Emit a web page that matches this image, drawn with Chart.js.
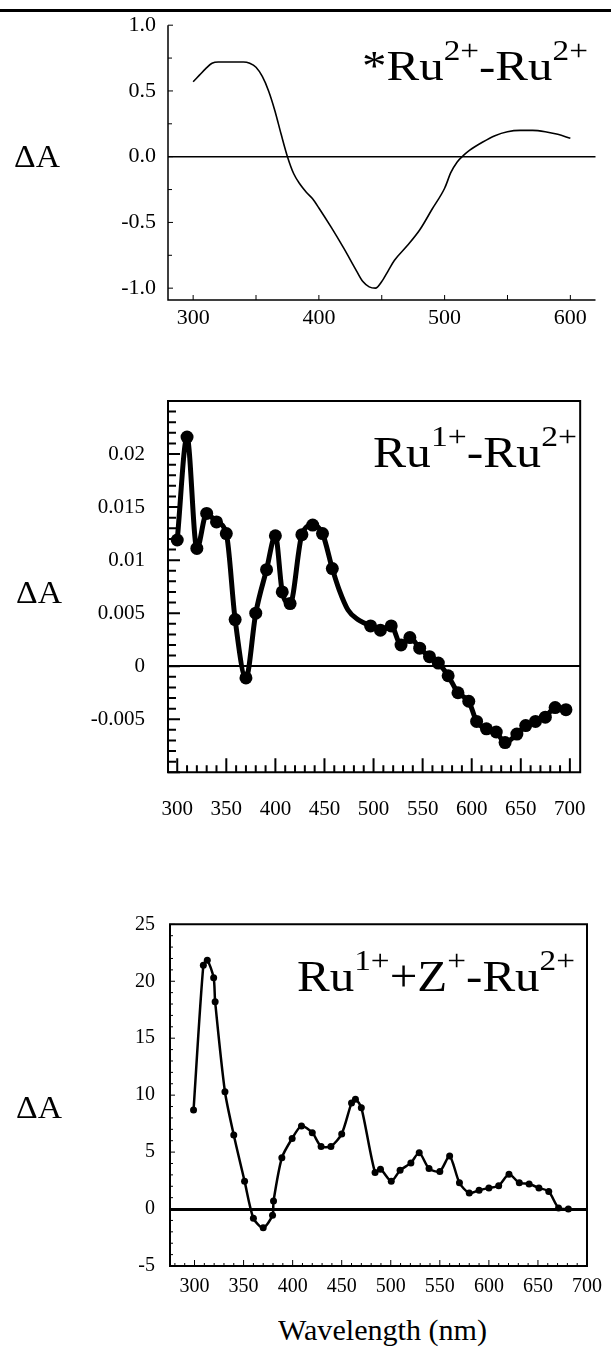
<!DOCTYPE html>
<html>
<head>
<meta charset="utf-8">
<script src="https://cdn.jsdelivr.net/npm/chart.js@4.4.1/dist/chart.umd.min.js"></script>
<style>
  body { margin: 0; background: #fff; width: 611px; height: 1358px; position: relative; overflow: hidden;
         font-family: "Liberation Serif", "Times New Roman", serif; color: #000; }
  canvas { position: absolute; left: 0; }
  .lbl { position: absolute; white-space: nowrap; line-height: 1; transform-origin: 0 0; }
  .lbl sup { font-size: 0.68em; vertical-align: 0.7em; line-height: 0; }
  #rule { position: absolute; left: 0; top: 9px; width: 611px; height: 3px; background: #000; }
</style>
</head>
<body>
<div id="rule"></div>
<canvas id="top" width="611" height="340" style="top:0"></canvas>
<canvas id="mid" width="611" height="470" style="top:360px"></canvas>
<canvas id="low" width="611" height="420" style="top:880px"></canvas>

<div class="lbl" data-x="362" data-base="80" data-w="226" data-f="42">*Ru<sup>2+</sup>-Ru<sup>2+</sup></div>
<div class="lbl" data-x="373" data-base="468" data-w="204" data-f="44">Ru<sup>1+</sup>-Ru<sup>2+</sup></div>
<div class="lbl" data-x="297" data-base="992" data-w="278" data-f="44">Ru<sup>1+</sup>+Z<sup>+</sup>-Ru<sup>2+</sup></div>
<div class="lbl" data-x="14" data-base="167" data-w="46" data-f="32">ΔA</div>
<div class="lbl" data-x="16" data-base="603" data-w="46" data-f="32">ΔA</div>
<div class="lbl" data-x="16" data-base="1118" data-w="46" data-f="32">ΔA</div>
<div class="lbl" data-x="278" data-base="1340" data-w="209" data-f="29">Wavelength (nm)</div>

<script>
// *Ru2+ - Ru2+ difference spectrum
const excitedWl = [300, 305, 310, 315, 320, 330, 340, 345, 350, 355, 360, 365, 370, 375, 380, 385, 390, 395, 400,
  410, 420, 430, 435, 440, 445, 450, 455, 460, 470, 480, 490, 500, 505, 510, 515, 520, 530, 540, 550, 560, 570,
  580, 590, 600];
const excitedDA = [0.57, 0.62, 0.67, 0.71, 0.72, 0.72, 0.72, 0.71, 0.68, 0.61, 0.50, 0.35, 0.17, 0.0, -0.13, -0.21,
  -0.27, -0.32, -0.39, -0.54, -0.70, -0.87, -0.95, -0.99, -1.0, -0.95, -0.87, -0.79, -0.68, -0.56, -0.40, -0.24,
  -0.12, -0.04, 0.01, 0.05, 0.11, 0.16, 0.19, 0.20, 0.20, 0.19, 0.17, 0.14];

// Ru1+ - Ru2+
const reducedWl = [300, 310, 320, 330, 340, 350, 359, 370, 380, 391, 400, 407, 415, 427, 438, 448, 458, 465, 474,
  484, 490, 497, 507, 518, 528, 537, 547, 557, 566, 576, 586, 597, 605, 615, 625, 634, 646, 655, 665, 675, 685, 696];
const reducedDA = [0.0119, 0.0216, 0.0111, 0.0144, 0.0136, 0.0125, 0.0044, -0.0011, 0.0050, 0.0091, 0.0123, 0.0070,
  0.0059, 0.0124, 0.0133, 0.0125, 0.0092, 0.0072, 0.0053, 0.0044, 0.0041, 0.0038, 0.0034, 0.0038, 0.0020, 0.0027,
  0.0017, 0.0009, 0.0003, -0.0009, -0.0025, -0.0033, -0.0052, -0.0059, -0.0062, -0.0072, -0.0064, -0.0056, -0.0052,
  -0.0048, -0.0039, -0.0041];

// Ru1+ + Z+ - Ru2+
const pairWl = [299, 309, 313, 319.5, 321, 331, 340, 351, 360, 370, 379.5, 380.5, 389, 399.5, 409, 420, 429, 439,
  450, 460, 464, 470, 484, 489.5, 500.5, 509.5, 520.5, 529, 539, 550, 560, 570, 580, 590, 600, 610, 620.5, 631, 641,
  651, 661, 671, 681];
const pairDA = [8.7, 21.4, 21.85, 20.3, 18.2, 10.3, 6.5, 2.45, -0.8, -1.65, -0.55, 0.7, 4.5, 6.2, 7.3, 6.7, 5.5, 5.5,
  6.6, 9.3, 9.65, 8.9, 3.2, 3.5, 2.45, 3.4, 4.05, 4.95, 3.55, 3.3, 4.65, 2.3, 1.4, 1.65, 1.85, 2.05, 3.05, 2.3, 2.2,
  1.85, 1.55, 0.1, 0.0];

// tick labels
const topXTicks = [300, 400, 500, 600];
const topYTicks = [-1, -0.5, 0, 0.5, 1];
const midXTicks = [300, 350, 400, 450, 500, 550, 600, 650, 700];
const midYTicks = [-0.005, 0, 0.005, 0.01, 0.015, 0.02];
const lowXTicks = [300, 350, 400, 450, 500, 550, 600, 650, 700];
const lowYTicks = [-5, 0, 5, 10, 15, 20, 25];

// frame + inward tick marks
const frame = {
  id: 'frame',
  afterDraw(chart, args, o) {
    const { ctx, chartArea: a, scales } = chart;
    ctx.save();
    ctx.strokeStyle = '#000';
    ctx.lineWidth = o.width;
    ctx.beginPath();
    if (o.box) {
      ctx.rect(a.left, a.top, a.right - a.left, a.bottom - a.top);
    } else {
      ctx.moveTo(a.left, a.top);
      ctx.lineTo(a.left, a.bottom);
      ctx.lineTo(a.right, a.bottom);
    }
    ctx.stroke();
    ctx.lineWidth = o.tickWidth;
    ctx.beginPath();
    const major = (v, m) => Math.abs(v / m - Math.round(v / m)) < 1e-6;
    let t = o.xTicks;
    for (let i = 0; i <= Math.round((t.to - t.from) / t.step); i++) {
      const v = t.from + i * t.step;
      const px = scales.x.getPixelForValue(v);
      const len = major(v, t.major) ? t.majorLen : t.len;
      ctx.moveTo(px, a.bottom);
      ctx.lineTo(px, a.bottom - len);
    }
    t = o.yTicks;
    for (let i = 0; i <= Math.round((t.to - t.from) / t.step); i++) {
      const v = t.from + i * t.step;
      const py = scales.y.getPixelForValue(v);
      const len = major(v, t.major) ? t.majorLen : t.len;
      ctx.moveTo(a.left, py);
      ctx.lineTo(a.left + len, py);
    }
    ctx.stroke();
    ctx.restore();
  }
};

function points(xs, ys) {
  return xs.map((x, i) => ({ x: x, y: ys[i] }));
}

function makeChart(id, cfg) {
  const font = { family: '"Liberation Serif", "Times New Roman", serif', size: cfg.fontSize };
  return new Chart(document.getElementById(id), {
    type: 'line',
    data: {
      datasets: [{
        data: points(cfg.xs, cfg.ys),
        borderColor: '#000',
        backgroundColor: '#000',
        borderWidth: cfg.lineWidth,
        pointRadius: cfg.pointRadius,
        pointBorderWidth: 0,
        pointBackgroundColor: '#000',
        tension: cfg.tension,
        cubicInterpolationMode: cfg.mono ? 'monotone' : 'default'
      }]
    },
    options: {
      responsive: false,
      animation: false,
      layout: { padding: cfg.padding },
      plugins: { legend: { display: false }, tooltip: { enabled: false }, frame: cfg.frame },
      scales: {
        x: {
          type: 'linear', min: cfg.xMin, max: cfg.xMax,
          afterBuildTicks: s => { s.ticks = cfg.xTicks.map(v => ({ value: v })); },
          afterFit: s => { s.height = cfg.xHeight; },
          grid: { color: 'rgba(0,0,0,0)', drawTicks: false },
          border: { display: false },
          ticks: { color: '#000', font: font, padding: cfg.xPad, maxRotation: 0, autoSkip: false }
        },
        y: {
          min: cfg.yMin, max: cfg.yMax,
          afterBuildTicks: s => { s.ticks = cfg.yTicks.map(v => ({ value: v })); },
          afterFit: s => { s.width = cfg.yWidth; },
          grid: {
            drawTicks: false,
            color: c => (c.tick && c.tick.value === 0 ? '#000' : 'rgba(0,0,0,0)'),
            lineWidth: cfg.zeroWidth
          },
          border: { display: false },
          ticks: { color: '#000', font: font, padding: cfg.yPad, callback: cfg.yFormat }
        }
      }
    },
    plugins: [frame]
  });
}

// *Ru2+-Ru2+
makeChart('top', {
  xs: excitedWl, ys: excitedDA, xMin: 280, xMax: 620, yMin: -1.09, yMax: 1.0,
  xTicks: topXTicks, yTicks: topYTicks, yFormat: v => v.toFixed(1),
  fontSize: 22, lineWidth: 1.6, pointRadius: 0, tension: 0.4, mono: true,
  padding: { top: 23, right: 15.5, left: 0, bottom: 0 }, yWidth: 168, xHeight: 40, xPad: 5, yPad: 12, zeroWidth: 1.5,
  frame: { box: false, width: 1.5, tickWidth: 1,
    xTicks: { from: 300, to: 600, step: 50, major: 50, len: 5, majorLen: 5 },
    yTicks: { from: -1, to: 1, step: 0.25, major: 0.5, len: 4, majorLen: 5 } }
});

// Ru1+-Ru2+
makeChart('mid', {
  xs: reducedWl, ys: reducedDA, xMin: 290.6, xMax: 710.5, yMin: -0.01, yMax: 0.025,
  xTicks: midXTicks, yTicks: midYTicks, yFormat: v => String(+v.toFixed(3)),
  fontSize: 21, lineWidth: 5, pointRadius: c => (c.parsed && c.parsed.x > 460 && c.parsed.x < 495 ? 0 : 6.5),
  tension: 0.4, mono: true,
  padding: { top: 41, right: 15.3, left: 0, bottom: 0 }, yWidth: 168, xHeight: 57.7, xPad: 25, yPad: 23, zeroWidth: 2,
  frame: { box: true, width: 2, tickWidth: 2,
    xTicks: { from: 300, to: 700, step: 10, major: 50, len: 7, majorLen: 14 },
    yTicks: { from: -0.01, to: 0.025, step: 0.001, major: 0.005, len: 8, majorLen: 12 } }
});

// Ru1+ + Z+ - Ru2+
makeChart('low', {
  xs: pairWl, ys: pairDA, xMin: 275, xMax: 700, yMin: -5, yMax: 25,
  xTicks: lowXTicks, yTicks: lowYTicks, yFormat: v => String(v),
  fontSize: 20, lineWidth: 2.5, pointRadius: 3.5, tension: 0.25, mono: false,
  padding: { top: 44.3, right: 17.7, left: 0, bottom: 0 }, yWidth: 170, xHeight: 34, xPad: 9, yPad: 15, zeroWidth: 3,
  frame: { box: true, width: 2, tickWidth: 1,
    xTicks: { from: 280, to: 700, step: 10, major: 50, len: 3, majorLen: 6 },
    yTicks: { from: -5, to: 25, step: 1, major: 5, len: 3, majorLen: 5 } }
});

// place the text labels: baseline at data-base, stretched to the measured width
document.querySelectorAll('.lbl').forEach(el => {
  const f = +el.dataset.f;
  el.style.fontSize = f + 'px';
  el.style.left = el.dataset.x + 'px';
  el.style.top = (+el.dataset.base - 0.8375 * f) + 'px';
  const w = el.getBoundingClientRect().width;
  el.style.transform = 'scaleX(' + (+el.dataset.w / w).toFixed(3) + ')';
});
</script>
</body>
</html>
